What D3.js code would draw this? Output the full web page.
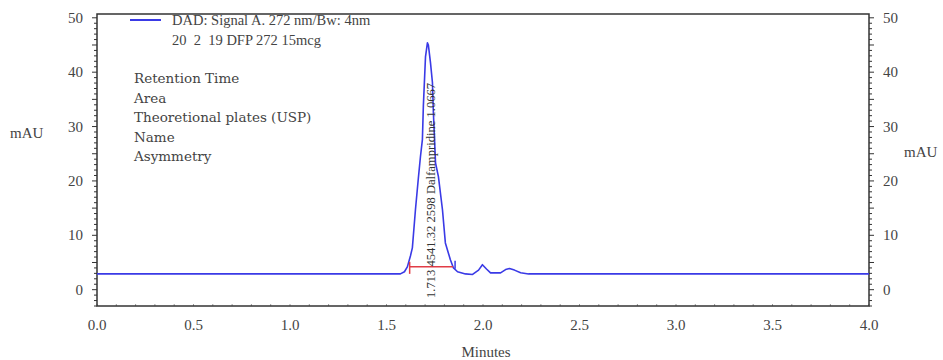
<!DOCTYPE html>
<html>
<head>
<meta charset="utf-8">
<script src="https://cdn.jsdelivr.net/npm/d3@7"></script>
<style>
  body { margin: 0; background: #fff; }
  svg text { font-family: 'Liberation Serif', 'DejaVu Serif', serif; fill: #444; }
  svg text.wide { font-family: 'DejaVu Serif', serif; }
</style>
</head>
<body>
<div id="chart"></div>
<script>
'use strict';

// retention time (min) and signal (mAU)
var TIMES = [0, 1.546, 1.572, 1.593, 1.608, 1.624, 1.634, 1.650, 1.665, 1.676, 1.686, 1.691,
  1.702, 1.712, 1.717, 1.728, 1.738, 1.743, 1.754, 1.769, 1.790, 1.805, 1.831, 1.847,
  1.868, 1.909, 1.946, 1.977, 1.997, 2.018, 2.039, 2.091, 2.117, 2.137, 2.163, 2.195, 2.236, 4.0];
var SIGNAL = [2.9, 2.9, 2.9, 3.3, 4.2, 6.2, 7.7, 14.7, 20.5, 24.5, 27.6, 33.8,
  42.8, 45.4, 45.0, 41.7, 38.1, 32.5, 23.3, 20.8, 14.7, 8.6, 5.5, 4.0,
  3.3, 2.9, 2.8, 3.6, 4.6, 3.8, 3.1, 3.1, 3.7, 3.9, 3.6, 3.1, 2.9, 2.9];

var X_TICKS = [0, 0.5, 1, 1.5, 2, 2.5, 3, 3.5, 4];
var Y_TICKS = [0, 10, 20, 30, 40, 50];

var INTEGRATION_START = 1.62;
var INTEGRATION_END = 1.845;
var INTEGRATION_LEVEL = 4.2;
var PEAK_TIME = 1.713;
var PEAK_LABEL = '1.713 4541.32 2598 Dalfampridine 1.0667';

var LEGEND_LINES = ['DAD: Signal A. 272 nm/Bw: 4nm', '20  2  19 DFP 272 15mcg'];
var RESULT_FIELDS = ['Retention Time', 'Area', 'Theoretional plates (USP)', 'Name', 'Asymmetry'];

// layout in pixels
var WIDTH = 943, HEIGHT = 360;
var LEFT = 97, RIGHT = 869, TOP = 14, BOTTOM = 306;
var TRACE_COLOR = 'rgb(58, 58, 230)';
var AXIS_COLOR = '#333';

var svg = d3.select('#chart').append('svg')
  .attr('width', WIDTH)
  .attr('height', HEIGHT);

var x = d3.scaleLinear().domain([0, 4]).range([LEFT, RIGHT]);
var y = d3.scaleLinear().domain([-3, 50.7]).range([BOTTOM, TOP]);

// minor ticks every 1 mAU, longer every 5
var minorY = d3.range(-3, 51, 1);

function yAxis(g, side) {
  var dir = side === 'left' ? -1 : 1;
  g.selectAll('line.tick')
    .data(minorY)
    .enter()
    .append('line')
    .attr('class', 'tick')
    .attr('x1', 0)
    .attr('x2', function(d) { return dir * (d % 5 === 0 ? 5 : 3); })
    .attr('y1', function(d) { return y(d); })
    .attr('y2', function(d) { return y(d); })
    .style('stroke', AXIS_COLOR)
    .style('stroke-width', 1);

  g.selectAll('text')
    .data(Y_TICKS)
    .enter()
    .append('text')
    .text(function(d) { return d; })
    .attr('x', dir * 14)
    .attr('y', function(d) { return y(d) + 5; })
    .attr('text-anchor', side === 'left' ? 'end' : 'start')
    .style('font-size', '15px');
}

yAxis(svg.append('g').attr('transform', 'translate(' + LEFT + ',0)'), 'left');
yAxis(svg.append('g').attr('transform', 'translate(' + RIGHT + ',0)'), 'right');

// faint minor ticks along the time axis
svg.append('g')
  .selectAll('line')
  .data(d3.range(0, 4.001, 0.1))
  .enter()
  .append('line')
  .attr('x1', function(d) { return x(d); })
  .attr('x2', function(d) { return x(d); })
  .attr('y1', BOTTOM - 2)
  .attr('y2', BOTTOM)
  .style('stroke', '#999')
  .style('stroke-width', 1);

svg.append('g')
  .selectAll('text')
  .data(X_TICKS)
  .enter()
  .append('text')
  .text(function(d) { return d.toFixed(1); })
  .attr('x', function(d) { return x(d); })
  .attr('y', BOTTOM + 24)
  .attr('text-anchor', 'middle')
  .style('font-size', '15px');

// frame
svg.append('rect')
  .attr('x', LEFT)
  .attr('y', TOP)
  .attr('width', RIGHT - LEFT)
  .attr('height', BOTTOM - TOP)
  .style('fill', 'none')
  .style('stroke', AXIS_COLOR)
  .style('stroke-width', 1.5);

// axis titles
svg.append('text').text('mAU')
  .attr('x', 10).attr('y', 138)
  .style('font-size', '15px');
svg.append('text').text('mAU')
  .attr('x', 904).attr('y', 157)
  .style('font-size', '15px');
svg.append('text').text('Minutes')
  .attr('x', (LEFT + RIGHT) / 2 + 3).attr('y', 357)
  .attr('text-anchor', 'middle')
  .style('font-size', '15px');

// trace
var points = TIMES.map(function(t, i) { return [t, SIGNAL[i]]; });
var line = d3.line()
  .x(function(d) { return x(d[0]); })
  .y(function(d) { return y(d[1]); });

svg.append('path')
  .datum(points)
  .attr('d', line)
  .style('fill', 'none')
  .style('stroke', TRACE_COLOR)
  .style('stroke-width', 1.6)
  .style('stroke-linejoin', 'round');

// integration baseline
svg.append('line')
  .attr('x1', x(INTEGRATION_START)).attr('x2', x(INTEGRATION_END))
  .attr('y1', y(INTEGRATION_LEVEL)).attr('y2', y(INTEGRATION_LEVEL))
  .style('stroke', 'rgb(225, 60, 70)')
  .style('stroke-width', 1.5);
svg.append('line')
  .attr('x1', x(INTEGRATION_START)).attr('x2', x(INTEGRATION_START))
  .attr('y1', y(INTEGRATION_LEVEL) - 5).attr('y2', y(INTEGRATION_LEVEL) + 7)
  .style('stroke', 'rgb(225, 60, 70)')
  .style('stroke-width', 1.5);
svg.append('line')
  .attr('x1', x(INTEGRATION_END) + 2).attr('x2', x(INTEGRATION_END) + 2)
  .attr('y1', y(INTEGRATION_LEVEL) - 6).attr('y2', y(INTEGRATION_LEVEL) + 2)
  .style('stroke', TRACE_COLOR)
  .style('stroke-width', 1.5);

// peak annotation, rotated
svg.append('text').text(PEAK_LABEL)
  .attr('transform', 'translate(' + (x(PEAK_TIME) + 7) + ',' + 298 + ') rotate(-90)')
  .style('font-size', '12.6px')
  .style('fill', '#333');

// legend
svg.append('line')
  .attr('x1', 130).attr('x2', 161)
  .attr('y1', 20).attr('y2', 20)
  .style('stroke', TRACE_COLOR)
  .style('stroke-width', 2);

svg.append('g')
  .selectAll('text')
  .data(LEGEND_LINES)
  .enter()
  .append('text')
  .text(function(d) { return d; })
  .attr('x', 172)
  .attr('y', function(d, i) { return 25 + i * 20; })
  .style('font-size', '14.5px')
  .style('white-space', 'pre')
  .attr('xml:space', 'preserve');

svg.append('g')
  .selectAll('text')
  .data(RESULT_FIELDS)
  .enter()
  .append('text')
  .attr('class', 'wide')
  .text(function(d) { return d; })
  .attr('x', 134)
  .attr('y', function(d, i) { return 83 + i * 19.5; })
  .style('font-size', '13.5px');
</script>
</body>
</html>
